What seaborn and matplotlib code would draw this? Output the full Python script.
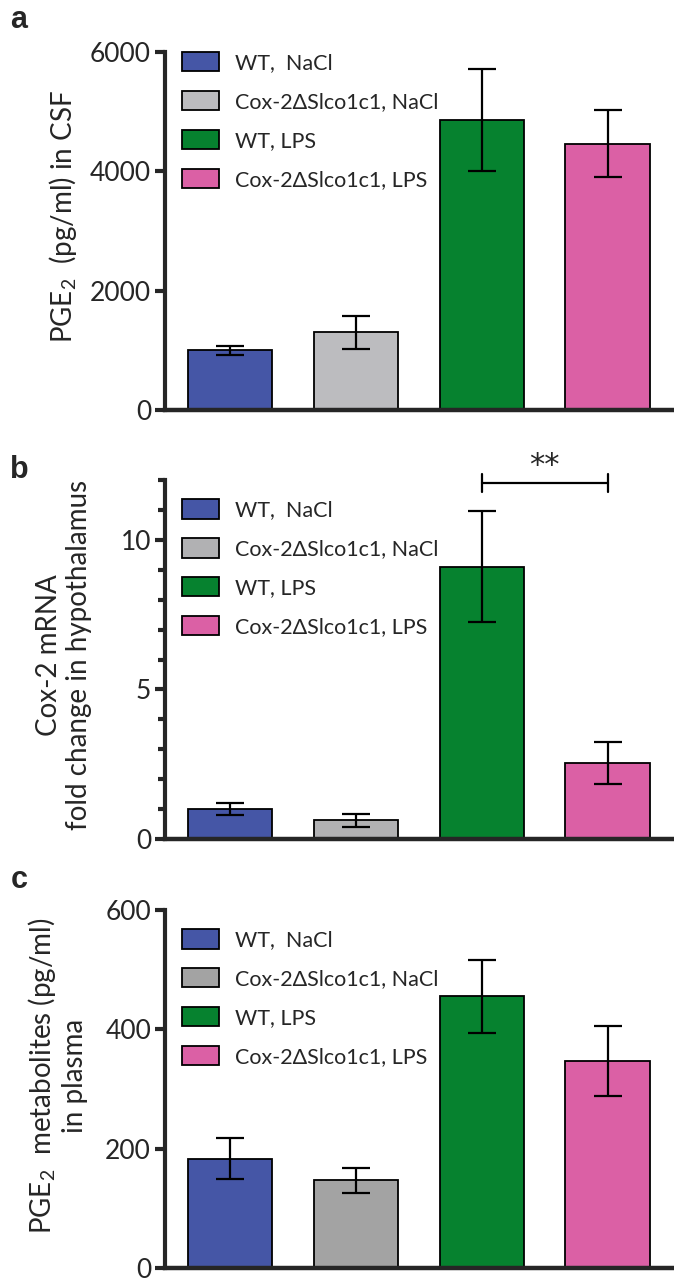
import numpy as np
import matplotlib
matplotlib.use('Agg')
import matplotlib.pyplot as plt
import matplotlib.patches as mpatches
from matplotlib.ticker import MultipleLocator
import seaborn as sns

# --- data ---
groups = ['WT,  NaCl', 'Cox-2\u0394Slco1c1, NaCl', 'WT, LPS', 'Cox-2\u0394Slco1c1, LPS']

csf_mean = [1000, 1300, 4860, 4460]
csf_sem = [80, 280, 850, 560]

mrna_mean = [1.0, 0.63, 9.1, 2.53]
mrna_sem = [0.19, 0.22, 1.85, 0.70]

plasma_mean = [183, 147, 455, 347]
plasma_sem = [34, 21, 61, 58]

BLUE = '#4556a6'
GREEN = '#06822f'
PINK = '#db60a5'
grays = ['#bcbcbf', '#b1b1b3', '#a3a3a3']

sns.set_style('ticks')
plt.rcParams['font.family'] = ['Lato', 'DejaVu Sans']
plt.rcParams['mathtext.default'] = 'regular'


def draw_panel(ax, means, sems, gray, ylabel, label_xy, legend_top):
    colors = [BLUE, gray, GREEN, PINK]
    sns.barplot(x=groups, y=means, hue=groups, order=groups, hue_order=groups,
                palette=colors, saturation=1, dodge=False, legend=False, width=0.67,
                edgecolor='black', linewidth=1.3, errorbar=None, ax=ax)
    ax.errorbar(range(len(groups)), means, yerr=sems, fmt='none', ecolor='black',
                elinewidth=1.6, capsize=10, capthick=1.6, zorder=5)

    sns.despine(ax=ax)
    ax.spines['left'].set_linewidth(3)
    ax.spines['bottom'].set_linewidth(3.2)
    ax.set_xlim(-0.516, 3.51)
    ax.set_xticks([])
    ax.set_xlabel('')
    ax.tick_params(axis='y', direction='out', length=7, width=3, labelsize=19, pad=3)
    ax.set_ylabel(ylabel, fontsize=20, linespacing=1.2)
    ax.yaxis.set_label_coords(*label_xy)

    handles = [mpatches.Patch(facecolor=c, edgecolor='black', linewidth=1.3) for c in colors]
    ax.legend(handles, groups, loc='upper left', bbox_to_anchor=(0.034, legend_top),
              frameon=False, fontsize=15.5, handlelength=1.7, handleheight=1.0,
              handletextpad=0.75, labelspacing=0.83, borderpad=0, borderaxespad=0)


fig = plt.figure(figsize=(6.74, 12.8), dpi=100)
ax_a = fig.add_axes([0.2448, 0.6797, 0.752, 0.2797])
ax_b = fig.add_axes([0.2448, 0.3445, 0.752, 0.2805])
ax_c = fig.add_axes([0.2448, 0.0094, 0.752, 0.2797])

# a: PGE2 in CSF
draw_panel(ax_a, csf_mean, csf_sem, grays[0], r'PGE$_2$  (pg/ml) in CSF', (-0.17, 0.54), 1.0)
ax_a.set_ylim(0, 6000)
ax_a.set_yticks([0, 2000, 4000, 6000])

# b: Cox-2 mRNA
draw_panel(ax_b, mrna_mean, mrna_sem, grays[1],
           'Cox-2 mRNA\nfold change in hypothalamus', (-0.144, 0.512), 0.946)
ax_b.set_ylim(0, 12)
ax_b.set_yticks([0, 5, 10])
ax_b.yaxis.set_minor_locator(MultipleLocator(1))
ax_b.tick_params(axis='y', which='minor', direction='out', length=5, width=3)

# significance bracket between WT LPS and Cox-2 LPS
y_sig = mrna_mean[2] + mrna_sem[2] + 0.95
ax_b.plot([2, 3], [y_sig, y_sig], color='black', lw=1.6, clip_on=False)
for xx in (2, 3):
    ax_b.plot([xx, xx], [y_sig - 0.3, y_sig + 0.3], color='black', lw=1.6, clip_on=False)
ax_b.text(2.5, y_sig + 0.1, '**', ha='center', va='bottom', fontsize=22,
          family='DejaVu Sans', clip_on=False)

# c: PGE2 metabolites in plasma
draw_panel(ax_c, plasma_mean, plasma_sem, grays[2],
           'PGE$_2$  metabolites (pg/ml)\nin plasma', (-0.152, 0.536), 0.946)
ax_c.set_ylim(0, 600)
ax_c.set_yticks([0, 200, 400, 600])

for lab, yy in zip(['a', 'b', 'c'], [20, 470, 880]):
    fig.text(0.028, 1 - yy / 1280, lab, fontsize=22, fontweight='bold',
             ha='center', va='center', family=['Liberation Sans', 'DejaVu Sans'])

fig.savefig('out.png', dpi=100)
